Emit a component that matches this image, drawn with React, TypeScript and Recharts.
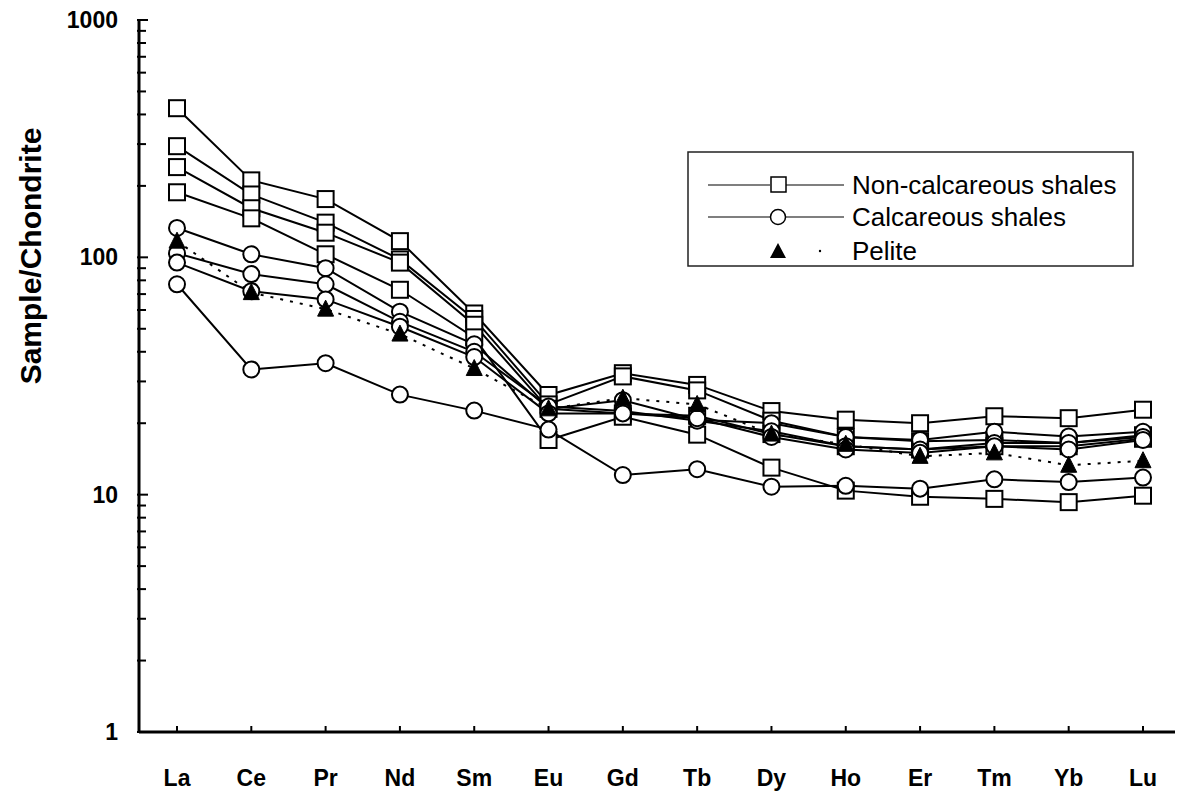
import { LineChart, Line, XAxis, YAxis } from 'recharts';

const elements = ['La', 'Ce', 'Pr', 'Nd', 'Sm', 'Eu', 'Gd', 'Tb', 'Dy', 'Ho', 'Er', 'Tm', 'Yb', 'Lu'];

// non-calcareous shales
const shaleA = [425, 211, 176, 117, 58, 26.3, 32.5, 29, 22.5, 20.7, 20, 21.4, 21, 22.8];
const shaleB = [294, 184, 140, 98, 55, 24, 31.5, 27.5, 20.5, 17.5, 16.8, 17, 16.5, 17.8];
const shaleC = [240, 161, 127, 95, 52, 23, 22, 21.5, 18, 16, 15.5, 16, 16, 17.2];
const shaleD = [188, 146, 103, 73, 46, 17, 21.3, 17.9, 13, 10.4, 9.8, 9.6, 9.3, 9.9];

// calcareous shales
const calcA = [133, 103, 90, 59, 43, 23, 25, 20.7, 20, 17.5, 17, 18.4, 17.6, 18.4];
const calcB = [104, 85, 77, 53.5, 40, 23.5, 22.5, 20.5, 18.5, 16, 15.5, 16.5, 16.5, 17.5];
const calcC = [95, 72, 66.5, 51, 38, 22, 22, 21, 17.5, 15.5, 15, 16, 15.5, 17];
const calcD = [77, 33.7, 35.8, 26.4, 22.6, 18.8, 12.1, 12.8, 10.8, 10.9, 10.6, 11.6, 11.3, 11.8];

// pelite
const pelite = [117, 71, 60.5, 47.5, 34, 23, 25.5, 24, 18, 16.3, 14.5, 15, 13.3, 13.9];

const yTicks = [
  1, 2, 3, 4, 5, 6, 7, 8, 9,
  10, 20, 30, 40, 50, 60, 70, 80, 90,
  100, 200, 300, 400, 500, 600, 700, 800, 900,
  1000,
];

const squareKeys = ['shaleA', 'shaleB', 'shaleC', 'shaleD'];
const circleKeys = ['calcA', 'calcB', 'calcC', 'calcD'];

const data = elements.map((el, i) => ({
  el,
  shaleA: shaleA[i],
  shaleB: shaleB[i],
  shaleC: shaleC[i],
  shaleD: shaleD[i],
  calcA: calcA[i],
  calcB: calcB[i],
  calcC: calcC[i],
  calcD: calcD[i],
  pelite: pelite[i],
}));

const FONT = '"Liberation Sans", Arial, Helvetica, sans-serif';

function SquareDot(props: any) {
  const { cx, cy, index, dataKey } = props;
  if (cx == null || cy == null) return <g key={`${dataKey}-${index}`} />;
  return (
    <rect
      key={`${dataKey}-${index}`}
      x={cx - 8}
      y={cy - 8}
      width={16}
      height={16}
      fill="#fff"
      stroke="#000"
      strokeWidth={2}
    />
  );
}

function CircleDot(props: any) {
  const { cx, cy, index, dataKey } = props;
  if (cx == null || cy == null) return <g key={`${dataKey}-${index}`} />;
  return <circle key={`${dataKey}-${index}`} cx={cx} cy={cy} r={8} fill="#fff" stroke="#000" strokeWidth={2} />;
}

function TriangleDot(props: any) {
  const { cx, cy, index, dataKey } = props;
  if (cx == null || cy == null) return <g key={`${dataKey}-${index}`} />;
  const pts = `${cx},${cy - 9} ${cx - 8},${cy + 7} ${cx + 8},${cy + 7}`;
  return <polygon key={`${dataKey}-${index}`} points={pts} fill="#000" stroke="#000" strokeWidth={1} />;
}

function ElementTick({ x, y, payload }: any) {
  return (
    <g>
      <line x1={x} x2={x} y1={y} y2={y - 6} stroke="#000" strokeWidth={2} />
      <text
        x={x}
        y={y + 54}
        textAnchor="middle"
        fontFamily={FONT}
        fontWeight="bold"
        fontSize={23}
        fill="#000"
      >
        {payload.value}
      </text>
    </g>
  );
}

function LogTick({ x, y, payload }: any) {
  const v = payload.value;
  const major = [1, 10, 100, 1000].includes(v);
  return (
    <g>
      <line x1={x - 2} x2={x + (major ? 9 : 7)} y1={y} y2={y} stroke="#000" strokeWidth={2} />
      {major && (
        <text
          x={x - 21}
          y={y}
          textAnchor="end"
          dominantBaseline="central"
          fontFamily={FONT}
          fontWeight="bold"
          fontSize={23}
          fill="#000"
        >
          {v}
        </text>
      )}
    </g>
  );
}

function YTitle() {
  return (
    <text
      x={30}
      y={256}
      transform="rotate(-90 30 256)"
      textAnchor="middle"
      dominantBaseline="central"
      fontFamily={FONT}
      fontWeight="bold"
      fontSize={30}
      fill="#000"
    >
      Sample/Chondrite
    </text>
  );
}

function LegendBox() {
  const rows = [
    { label: 'Non-calcareous shales', y: 34, kind: 'square' },
    { label: 'Calcareous shales', y: 66, kind: 'circle' },
    { label: 'Pelite', y: 100, kind: 'triangle' },
  ];
  return (
    <svg
      width={448}
      height={117}
      style={{ position: 'absolute', left: 687, top: 151 }}
    >
      <rect x={1} y={1} width={445} height={114} fill="#fff" stroke="#222" strokeWidth={1.5} />
      {rows.map((r) => (
        <g key={r.label}>
          {r.kind !== 'triangle' && (
            <>
              <line x1={21} x2={83} y1={r.y} y2={r.y} stroke="#000" strokeWidth={1.2} />
              <line x1={99} x2={157} y1={r.y} y2={r.y} stroke="#000" strokeWidth={1.2} />
            </>
          )}
          {r.kind === 'square' && (
            <rect x={84} y={r.y - 8} width={15} height={15} fill="#fff" stroke="#000" strokeWidth={1.5} />
          )}
          {r.kind === 'circle' && <circle cx={91} cy={r.y} r={7.5} fill="#fff" stroke="#000" strokeWidth={1.5} />}
          {r.kind === 'triangle' && (
            <>
              <polygon points={`91,${r.y - 8} 83,${r.y + 7} 99,${r.y + 7}`} fill="#000" />
              <circle cx={133} cy={r.y} r={1.2} fill="#000" />
            </>
          )}
          <text
            x={165}
            y={r.y}
            dominantBaseline="central"
            fontFamily={FONT}
            fontSize={26}
            fill="#000"
          >
            {r.label}
          </text>
        </g>
      ))}
    </svg>
  );
}

export default function App() {
  return (
    <div style={{ position: 'absolute', left: 0, top: 0, width: 1180, height: 791, background: '#fff' }}>
      <LineChart width={1180} height={791} data={data} margin={{ top: 20, right: 5, bottom: 0, left: 0 }}>
        <XAxis
          dataKey="el"
          type="category"
          height={59}
          padding={{ left: 38, right: 32 }}
          axisLine={{ stroke: '#000', strokeWidth: 3 }}
          tickLine={false}
          tickSize={0}
          tickMargin={0}
          interval={0}
          tick={<ElementTick />}
        />
        <YAxis
          type="number"
          scale="log"
          domain={[1, 1000]}
          allowDataOverflow
          width={139}
          ticks={yTicks}
          interval={0}
          axisLine={{ stroke: '#000', strokeWidth: 3 }}
          tickLine={false}
          tickSize={0}
          tickMargin={0}
          tick={<LogTick />}
          label={<YTitle />}
        />
        {squareKeys.map((k) => (
          <Line
            key={k}
            dataKey={k}
            stroke="#000"
            strokeWidth={2}
            dot={<SquareDot />}
            activeDot={false}
            isAnimationActive={false}
          />
        ))}
        {circleKeys.map((k) => (
          <Line
            key={k}
            dataKey={k}
            stroke="#000"
            strokeWidth={2}
            dot={<CircleDot />}
            activeDot={false}
            isAnimationActive={false}
          />
        ))}
        <Line
          dataKey="pelite"
          stroke="#000"
          strokeWidth={2}
          strokeDasharray="3 7"
          dot={<TriangleDot />}
          activeDot={false}
          isAnimationActive={false}
        />
      </LineChart>
      <LegendBox />
    </div>
  );
}
